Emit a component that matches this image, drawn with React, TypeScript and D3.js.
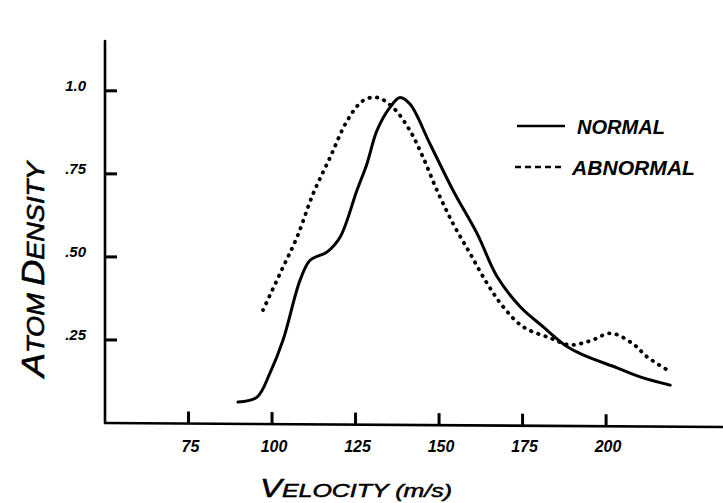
import React from "react";
import * as d3 from "d3";

const normalX = [89.8, 95.5, 99.4, 103.3, 108.4, 111.4, 116.5, 120.4, 125.4, 128.4, 131.4, 135.3, 138.3, 141.3, 147.3, 154.2, 161.4, 167.4, 174.3, 181.1, 188.3, 193.1, 203.3, 210.2, 219.2];
const normalY = [0.063, 0.078, 0.151, 0.25, 0.43, 0.49, 0.515, 0.56, 0.7, 0.78, 0.88, 0.95, 0.98, 0.96, 0.84, 0.7, 0.57, 0.44, 0.35, 0.29, 0.23, 0.205, 0.166, 0.139, 0.114];
const abnormalX = [97.3, 102.4, 107.5, 112.3, 117.4, 122.5, 127.2, 131.4, 136.2, 141.3, 145.2, 149.4, 154.2, 159.3, 164.4, 169.2, 175.1, 183.2, 189.2, 195.2, 201.5, 208.1, 212.3, 218.3];
const abnormalY = [0.34, 0.45, 0.56, 0.69, 0.8, 0.91, 0.97, 0.98, 0.95, 0.88, 0.8, 0.7, 0.6, 0.51, 0.42, 0.35, 0.29, 0.256, 0.235, 0.247, 0.27, 0.238, 0.199, 0.16];
const xTicks = [75, 100, 125, 150, 175, 200];
const xTickLabels = ["75", "100", "125", "150", "175", "200"];
const yTicks = [0.25, 0.5, 0.75, 1.0];
const yTickLabels = [".25", ".50", ".75", "1.0"];
const seriesNames = ["NORMAL", "ABNORMAL"];

const W = 723;
const H = 503;
const FONT = "'Liberation Sans', 'DejaVu Sans', sans-serif";

export default function App() {
  const x = d3.scaleLinear().domain([50, 235]).range([105, 723]);
  const y = d3.scaleLinear().domain([0, 1.15]).range([423, 41]);
  const line = d3
    .line<[number, number]>()
    .x((d) => x(d[0]))
    .y((d) => y(d[1]))
    .curve(d3.curveCatmullRom.alpha(0.5));
  const normal = normalX.map((v, i) => [v, normalY[i]] as [number, number]);
  const abnormal = abnormalX.map((v, i) => [v, abnormalY[i]] as [number, number]);
  const axisY = (px: number) => y(0) + ((px - 105) / 618) * 4;

  return (
    <svg
      width={W}
      height={H}
      style={{ position: "absolute", left: 0, top: 0, background: "#fff" }}
      fontFamily={FONT}
    >
      <rect x={0} y={0} width={W} height={H} fill="#fff" />
      {/* axes */}
      <line x1={x(50)} x2={x(50)} y1={y(1.15)} y2={y(0)} stroke="#000" strokeWidth={2.6} strokeLinecap="round" />
      <line x1={x(50)} x2={x(235)} y1={axisY(x(50))} y2={axisY(x(235))} stroke="#000" strokeWidth={2.6} />
      {yTicks.map((t, i) => (
        <g key={"y" + t}>
          <rect x={x(50)} y={y(t) - 1.5} width={12} height={3} fill="#000" />
          <text x={86} y={y(t)} textAnchor="end" fontSize={15} fontStyle="italic" fontWeight="bold">
            {yTickLabels[i]}
          </text>
        </g>
      ))}
      {xTicks.map((t, i) => (
        <g key={"x" + t}>
          <rect x={x(t) - 1.5} y={axisY(x(t)) - 12} width={3} height={12} fill="#000" />
          <text x={x(t) + 2} y={452} textAnchor="middle" fontSize={16} fontStyle="italic" fontWeight="bold">
            {xTickLabels[i]}
          </text>
        </g>
      ))}
      {/* axis titles */}
      <text x={260} y={497} fontSize={19} fontStyle="italic" textLength={192} lengthAdjust="spacingAndGlyphs" stroke="#000" strokeWidth={0.5}>
        <tspan fontSize={25}>V</tspan>ELOCITY  (m/s)
      </text>
      <text
        transform="translate(44,377) rotate(-90)"
        fontSize={24}
        fontStyle="italic"
        textLength={215}
        lengthAdjust="spacingAndGlyphs"
        stroke="#000"
        strokeWidth={0.6}
      >
        <tspan fontSize={32}>A</tspan>TOM <tspan fontSize={32}>D</tspan>ENSITY
      </text>
      {/* curves */}
      <path d={line(normal) || ""} fill="none" stroke="#000" strokeWidth={3} strokeLinejoin="round" strokeLinecap="round" />
      <path
        d={line(abnormal) || ""}
        fill="none"
        stroke="#000"
        strokeWidth={3.8}
        strokeDasharray="0.5 7"
        strokeLinecap="round"
      />
      {/* legend */}
      <line x1={517} x2={565} y1={126} y2={126} stroke="#000" strokeWidth={2.6} />
      <text x={577} y={134} fontSize={21} fontStyle="italic" fontWeight="bold" textLength={88} lengthAdjust="spacingAndGlyphs">
        {seriesNames[0]}
      </text>
      <line x1={515} x2={563} y1={167} y2={167} stroke="#000" strokeWidth={2.6} strokeDasharray="6 4" />
      <text x={572} y={175} fontSize={21} fontStyle="italic" fontWeight="bold" textLength={123} lengthAdjust="spacingAndGlyphs">
        {seriesNames[1]}
      </text>
    </svg>
  );
}
